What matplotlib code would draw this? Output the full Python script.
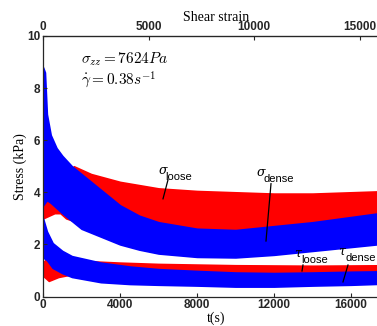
import matplotlib
matplotlib.use("Agg")
import matplotlib.pyplot as plt
import numpy as np

# ---- data ----
t_sig_loose = [0, 300, 600, 900, 1200, 1600, 2500, 4000, 6000, 8000, 10000, 12000, 14000, 16000, 18000]
sig_loose_lo = [3.0, 3.1, 3.2, 3.2, 3.0, 2.9, 2.8, 2.7, 2.6, 2.55, 2.55, 2.6, 2.7, 2.8, 2.9]
sig_loose_hi = [4.4, 4.3, 3.9, 3.8, 4.6, 5.0, 4.7, 4.4, 4.15, 4.05, 4.0, 3.95, 3.95, 4.0, 4.05]

t_sig_dense = [0, 100, 200, 400, 700, 1000, 1500, 2000, 3000, 4000, 5000, 6000, 8000, 10000, 12000, 14000, 16000, 18000]
sig_dense_lo = [3.5, 3.6, 3.7, 3.6, 3.4, 3.2, 2.9, 2.6, 2.3, 2.0, 1.8, 1.65, 1.52, 1.5, 1.6, 1.75, 1.9, 2.05]
sig_dense_hi = [8.8, 8.6, 7.0, 6.2, 5.7, 5.4, 5.0, 4.7, 4.1, 3.5, 3.1, 2.85, 2.6, 2.55, 2.7, 2.85, 3.05, 3.25]

t_tau_loose = [0, 300, 800, 1500, 2500, 4000, 6000, 10000, 14000, 18000]
tau_loose_lo = [0.8, 0.6, 0.75, 0.85, 0.9, 0.9, 0.88, 0.85, 0.85, 0.88]
tau_loose_hi = [1.3, 1.55, 1.45, 1.25, 1.35, 1.3, 1.25, 1.2, 1.18, 1.2]

t_tau_dense = [0, 200, 500, 1000, 1500, 3000, 4500, 6000, 8000, 10000, 12000, 14000, 16000, 18000]
tau_dense_lo = [1.5, 1.4, 1.1, 0.9, 0.75, 0.55, 0.48, 0.45, 0.42, 0.38, 0.38, 0.42, 0.45, 0.5]
tau_dense_hi = [3.0, 2.5, 2.05, 1.75, 1.55, 1.3, 1.15, 1.05, 0.98, 0.92, 0.9, 0.92, 0.95, 0.97]

x_ticks = [0, 4000, 8000, 12000, 16000]
y_ticks = [0, 2, 4, 6, 8, 10]
strain_ticks = [0, 5000, 10000, 15000]
strain_per_t = 0.911

RED = "#ff0000"
BLUE = "#0000ff"

plt.rcParams["mathtext.fontset"] = "cm"

fig = plt.figure(figsize=(3.77, 3.26), dpi=100)
ax = fig.add_axes([43/377, 29.5/326, 346.5/377, 260.5/326])

ax.fill_between(t_sig_loose, sig_loose_lo, sig_loose_hi, color=RED, lw=1.2, ec=RED)
ax.fill_between(t_tau_loose, tau_loose_lo, tau_loose_hi, color=RED, lw=1.2, ec=RED)
ax.fill_between(t_sig_dense, sig_dense_lo, sig_dense_hi, color=BLUE, lw=1.2, ec=BLUE)
ax.fill_between(t_tau_dense, tau_dense_lo, tau_dense_hi, color=BLUE, lw=1.2, ec=BLUE)

ax.set_xlim(0, 18000)
ax.set_ylim(0, 10)
ax.set_xticks(x_ticks)
ax.set_yticks(y_ticks)
tick_font = dict(family="Liberation Sans", weight="bold", size=8.5)
ax.set_xticklabels([str(v) for v in x_ticks], **tick_font, color="#262626")
ax.set_yticklabels([str(v) for v in y_ticks], **tick_font, color="#262626")
ax.tick_params(direction="in", length=3, width=0.8, pad=2, colors="#262626")
for s in ax.spines.values():
    s.set_linewidth(0.9)
    s.set_color("#262626")

ax.set_xlabel("t(s)", family="Liberation Serif", size=10, labelpad=0)
ax.set_ylabel("Stress (kPa)", family="Liberation Serif", size=10, labelpad=0)

sec = ax.secondary_xaxis("top", functions=(lambda t: np.asarray(t) * strain_per_t,
                                            lambda s: np.asarray(s) / strain_per_t))
sec.set_xticks(strain_ticks)
sec.set_xticklabels([str(v) for v in strain_ticks], **tick_font, color="#262626")
sec.tick_params(direction="in", length=3, width=0.8, pad=2, colors="#262626")
sec.set_xlabel("Shear strain", family="Liberation Serif", size=10, labelpad=0)

ax.text(1950, 8.95, r"$\sigma_{zz} = 7624 Pa$", size=11)
ax.text(1950, 8.15, r"$\dot{\gamma} = 0.38 s^{-1}$", size=11)

lab = dict(family="Liberation Sans", size=8)
def label(x, y, sym, sub):
    ax.text(x, y, sym, size=9, family="DejaVu Serif", style="italic")
    ax.text(x + 370, y - 0.24, sub, **lab)

label(6000, 4.72, "σ", "loose")
label(11100, 4.62, "σ", "dense")
label(13050, 1.52, "τ", "loose")
label(15350, 1.6, "τ", "dense")
ax.plot([6494, 6234], [4.48, 3.75], color="black", lw=0.9)
ax.plot([11844, 11584], [4.33, 2.13], color="black", lw=0.9)
ax.plot([13506, 13455], [1.21, 0.98], color="black", lw=0.9)
ax.plot([15844, 15584], [1.21, 0.56], color="black", lw=0.9)

fig.savefig("out.png", dpi=100)
